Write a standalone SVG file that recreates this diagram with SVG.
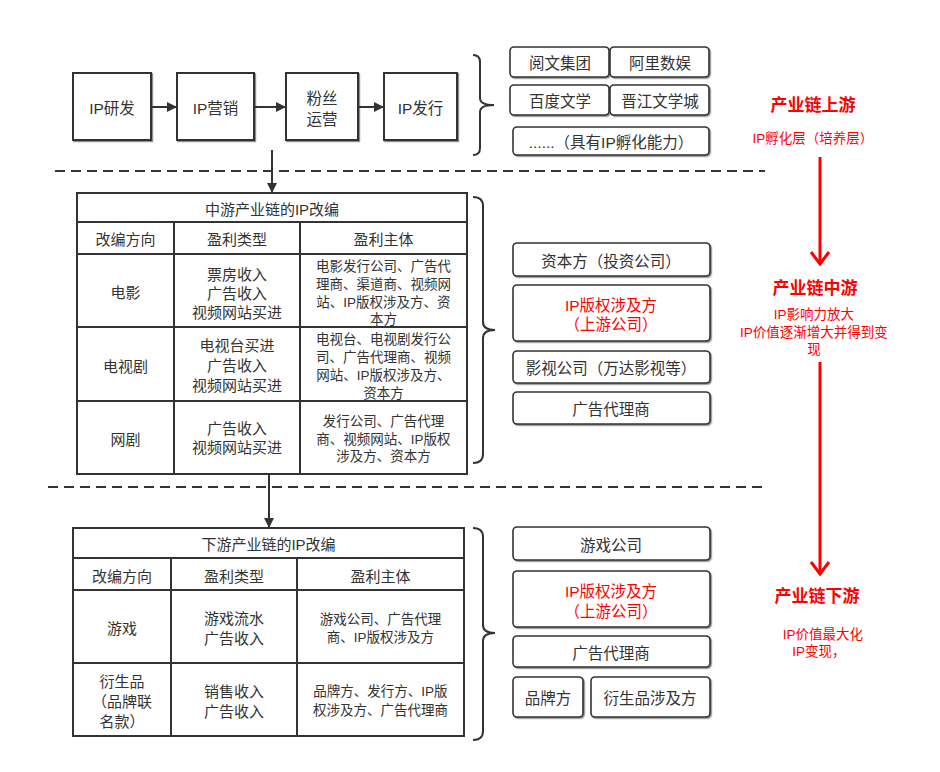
<svg xmlns="http://www.w3.org/2000/svg" width="940" height="772" viewBox="0 0 940 772">
<style>
text{font-family:"Liberation Sans","Noto Sans CJK SC",sans-serif;fill:#333;dominant-baseline:central;text-anchor:middle}
.b{font-size:15.5px}
.t{font-size:15px}
.s{font-size:13.5px}
.red{fill:#ff0000}
.hd{font-size:17px;font-weight:bold;fill:#ff0000}
.rs{font-size:13.5px;fill:#ff0000}
.box{fill:#fff;stroke:#333;stroke-width:2}
.rb{fill:#fff;stroke:#333;stroke-width:1.6;filter:url(#sh)}
.ln{fill:none;stroke:#333;stroke-width:2}
.dash{fill:none;stroke:#333;stroke-width:2;stroke-dasharray:10 6}
.brace{fill:none;stroke:#333;stroke-width:2}
.rarr{fill:none;stroke:#ff0000;stroke-width:3}
</style>
<defs>
<filter id="sh" x="-5%" y="-10%" width="115%" height="130%">
<feDropShadow dx="1.2" dy="1.2" stdDeviation="0.6" flood-color="#444" flood-opacity="0.6"/>
</filter>
<marker id="ah" viewBox="0 0 10 10" refX="10" refY="5" markerWidth="13" markerHeight="10" markerUnits="userSpaceOnUse" orient="auto">
<path d="M0,0 L10,5 L0,10 Z" fill="#333"/>
</marker>
</defs>
<rect width="940" height="772" fill="#fff"/>

<!-- upstream flow -->
<g id="ip-research"><rect class="box" x="73" y="73" width="78" height="67" filter="url(#sh)"/><text class="b" x="112" y="108">IP研发</text></g>
<g id="ip-marketing"><rect class="box" x="177" y="73" width="77" height="67" filter="url(#sh)"/><text class="b" x="215.5" y="108">IP营销</text></g>
<g id="fan-ops"><rect class="box" x="286" y="73" width="72" height="67" filter="url(#sh)"/><text class="b" x="322" y="98">粉丝<tspan x="322" dy="21">运营</tspan></text></g>
<g id="ip-publish"><rect class="box" x="384" y="73" width="73" height="67" filter="url(#sh)"/><text class="b" x="420.5" y="108">IP发行</text></g>

<g id="connectors">
<line class="ln" x1="151" y1="107" x2="177" y2="107" marker-end="url(#ah)"/>
<line class="ln" x1="254" y1="107" x2="286" y2="107" marker-end="url(#ah)"/>
<line class="ln" x1="358" y1="107" x2="384" y2="107" marker-end="url(#ah)"/>
<line class="ln" x1="272" y1="150" x2="272" y2="193" marker-end="url(#ah)"/>
<line class="ln" x1="269" y1="474" x2="269" y2="528" marker-end="url(#ah)"/>
<line class="dash" x1="55" y1="171" x2="765" y2="171"/>
<line class="dash" x1="48" y1="487" x2="765" y2="487"/>
<path class="brace" d="M473,55 Q480,55 480,62 L480,98 Q480,105 494,105 Q480,105 480,112 L480,148 Q480,155 473,155"/>
<path class="brace" d="M473,197 Q483,197 483,206 L483,322 Q483,330 495,330 Q483,330 483,338 L483,454 Q483,463 473,463"/>
<path class="brace" d="M473,528 Q483,528 483,537 L483,625 Q483,633 495,633 Q483,633 483,641 L483,731 Q483,740 473,740"/>
<line class="rarr" x1="820" y1="157" x2="820" y2="263"/>
<path class="rarr" d="M811,252 L820,264 L829,252"/>
<line class="rarr" x1="820" y1="362" x2="820" y2="573"/>
<path class="rarr" d="M811,562 L820,574 L829,562"/>
</g>

<!-- upstream companies -->
<g id="yuewen"><rect class="rb" x="510" y="47" width="99" height="30" rx="4"/><text class="b" x="560" y="63">阅文集团</text></g>
<g id="ali"><rect class="rb" x="610" y="47" width="99" height="30" rx="4"/><text class="b" x="660" y="63">阿里数娱</text></g>
<g id="baidu"><rect class="rb" x="510" y="85" width="99" height="30" rx="4"/><text class="b" x="560" y="101">百度文学</text></g>
<g id="jinjiang"><rect class="rb" x="610" y="85" width="99" height="30" rx="4"/><text class="b" x="660" y="101">晋江文学城</text></g>
<g id="others"><rect class="rb" x="513" y="127" width="196" height="28" rx="4"/><text class="b" x="611" y="142">......（具有IP孵化能力）</text></g>

<!-- midstream table -->
<g id="mid-table">
<rect x="77" y="193" width="390" height="281" fill="#fff" stroke="#333" stroke-width="2"/>
<path class="ln" d="M77,222 H467 M77,254 H467 M77,327 H467 M77,401 H467 M174,222 V474 M300,222 V474"/>
<text class="t" x="272" y="209">中游产业链的IP改编</text>
<text class="t" x="125.5" y="239">改编方向</text>
<text class="t" x="237" y="239">盈利类型</text>
<text class="t" x="383.5" y="239">盈利主体</text>
<text class="t" x="125.5" y="292">电影</text>
<text class="t" x="237" y="274">票房收入<tspan x="237" dy="19">广告收入</tspan><tspan x="237" dy="19">视频网站买进</tspan></text>
<text class="s" x="383.5" y="266">电影发行公司、广告代<tspan x="383.5" dy="18">理商、渠道商、视频网</tspan><tspan x="383.5" dy="18">站、IP版权涉及方、资</tspan><tspan x="383.5" dy="17">本方</tspan></text>
<text class="t" x="125.5" y="366">电视剧</text>
<text class="t" x="237" y="345">电视台买进<tspan x="237" dy="20">广告收入</tspan><tspan x="237" dy="20">视频网站买进</tspan></text>
<text class="s" x="383.5" y="339">电视台、电视剧发行公<tspan x="383.5" dy="18">司、广告代理商、视频</tspan><tspan x="383.5" dy="18">网站、IP版权涉及方、</tspan><tspan x="383.5" dy="18">资本方</tspan></text>
<text class="t" x="125.5" y="439">网剧</text>
<text class="t" x="237" y="428">广告收入<tspan x="237" dy="19">视频网站买进</tspan></text>
<text class="s" x="383.5" y="421">发行公司、广告代理<tspan x="383.5" dy="17.5">商、视频网站、IP版权</tspan><tspan x="383.5" dy="17.5">涉及方、资本方</tspan></text>
</g>

<!-- midstream parties -->
<g id="capital"><rect class="rb" x="513" y="243" width="197" height="33" rx="4"/><text class="b" x="611" y="261">资本方（投资公司）</text></g>
<g id="ip-rights-mid"><rect class="rb" x="513" y="285" width="197" height="56" rx="4"/><text class="b red" x="611" y="305">IP版权涉及方<tspan x="611" dy="19">（上游公司）</tspan></text></g>
<g id="film-co"><rect class="rb" x="513" y="351" width="197" height="32" rx="4"/><text class="b" x="611" y="368">影视公司（万达影视等）</text></g>
<g id="ad-mid"><rect class="rb" x="513" y="392" width="197" height="32" rx="4"/><text class="b" x="611" y="409">广告代理商</text></g>

<!-- downstream table -->
<g id="down-table">
<rect x="73" y="528" width="391" height="208" fill="#fff" stroke="#333" stroke-width="2"/>
<path class="ln" d="M73,558 H464 M73,590 H464 M73,663 H464 M171,558 V736 M297,558 V736"/>
<text class="t" x="268.5" y="544">下游产业链的IP改编</text>
<text class="t" x="122" y="576">改编方向</text>
<text class="t" x="234" y="576">盈利类型</text>
<text class="t" x="380.5" y="576">盈利主体</text>
<text class="t" x="122" y="628">游戏</text>
<text class="t" x="234" y="618">游戏流水<tspan x="234" dy="20">广告收入</tspan></text>
<text class="s" x="380.5" y="619">游戏公司、广告代理<tspan x="380.5" dy="18">商、IP版权涉及方</tspan></text>
<text class="t" x="122" y="681">衍生品<tspan x="122" dy="20">（品牌联</tspan><tspan x="122" dy="20">名款）</tspan></text>
<text class="t" x="234" y="691">销售收入<tspan x="234" dy="20">广告收入</tspan></text>
<text class="s" x="380.5" y="691">品牌方、发行方、IP版<tspan x="380.5" dy="19">权涉及方、广告代理商</tspan></text>
</g>

<!-- downstream parties -->
<g id="game-co"><rect class="rb" x="513" y="527" width="197" height="33" rx="4"/><text class="b" x="611" y="545">游戏公司</text></g>
<g id="ip-rights-down"><rect class="rb" x="513" y="571" width="197" height="56" rx="4"/><text class="b red" x="611" y="591">IP版权涉及方<tspan x="611" dy="20">（上游公司）</tspan></text></g>
<g id="ad-down"><rect class="rb" x="513" y="636" width="197" height="31" rx="4"/><text class="b" x="611" y="653">广告代理商</text></g>
<g id="brand"><rect class="rb" x="513" y="677" width="70" height="40" rx="4"/><text class="b" x="548" y="698">品牌方</text></g>
<g id="derivative"><rect class="rb" x="591" y="677" width="119" height="40" rx="4"/><text class="b" x="650" y="698">衍生品涉及方</text></g>

<!-- stage labels -->
<g id="stage-up"><text class="hd" x="813" y="105">产业链上游</text><text class="rs" x="813" y="138">IP孵化层（培养层）</text></g>
<g id="stage-mid"><text class="hd" x="815" y="288">产业链中游</text><text class="rs" x="814" y="314">IP影响力放大<tspan x="814" dy="18">IP价值逐渐增大并得到变</tspan><tspan x="814" dy="17">现</tspan></text></g>
<g id="stage-down"><text class="hd" x="817" y="596">产业链下游</text><text class="rs" x="823" y="634">IP价值最大化<tspan x="819" dy="17">IP变现，</tspan></text></g>
</svg>
